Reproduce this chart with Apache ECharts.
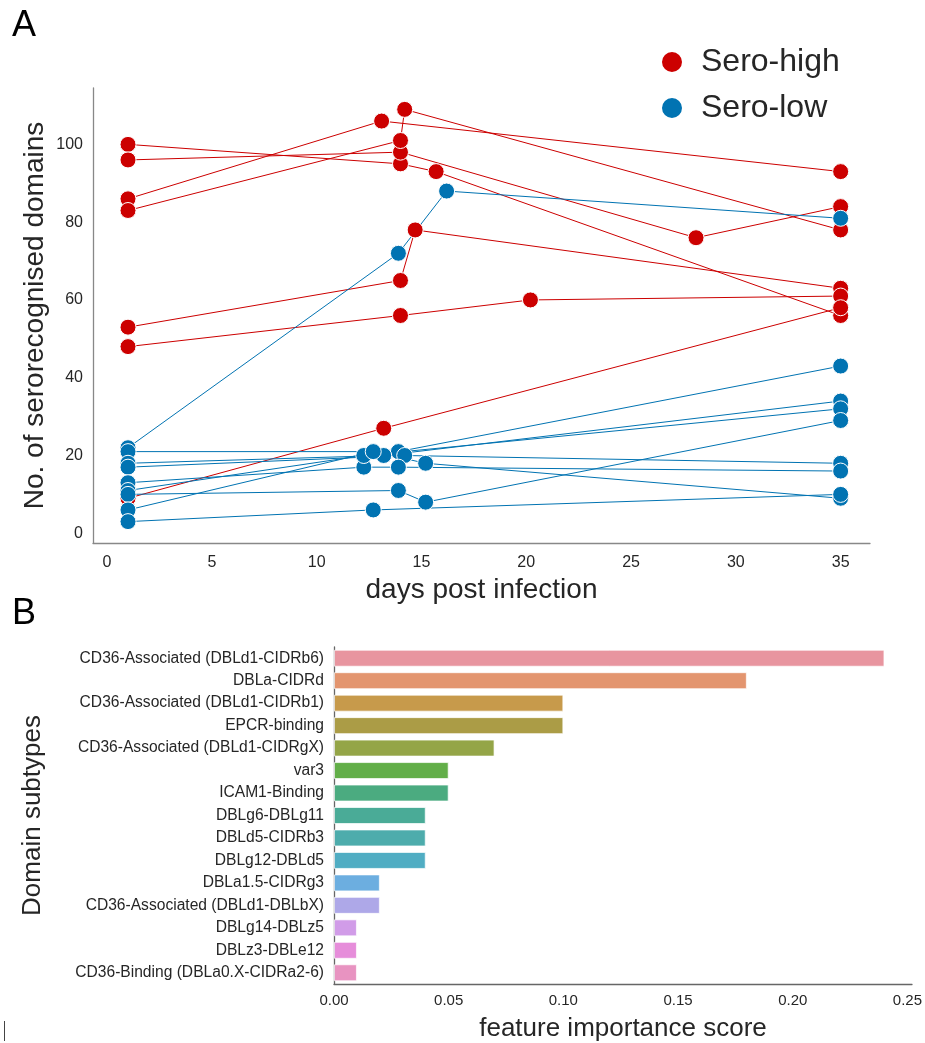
<!DOCTYPE html>
<html>
<head>
<meta charset="utf-8">
<script src="https://cdn.jsdelivr.net/npm/echarts@6/dist/echarts.min.js"></script>
<style>
html,body{margin:0;padding:0;background:#fff;}
#chart{width:925px;height:1043px;}
</style>
</head>
<body>
<div id="chart"></div>
<script>
// ---- Panel A data: one array per individual (days / values) ----
const highDays = [
  [1, 14, 15.7, 35],
  [1, 14, 28.1, 35],
  [1, 13.1, 35],
  [1, 14, 14.2, 35],
  [1, 14, 14.7, 35],
  [1, 14, 20.2, 35],
  [1, 13.2, 35]
];
const highValues = [
  [100, 95, 93, 56],
  [96, 98, 76, 84],
  [86, 106, 93],
  [83, 101, 109, 78],
  [53, 65, 78, 63],
  [48, 56, 60, 61],
  [9, 27, 58]
];
const lowDays = [
  [1, 13.9, 16.2, 35],
  [1, 13.9, 35],
  [1, 13.2, 35],
  [1, 14.2, 35],
  [1, 12.25, 13.9, 35],
  [1, 12.25, 35],
  [1, 13.9, 15.2, 35],
  [1, 12.7, 15.2, 35],
  [1, 12.7, 35]
];
const lowValues = [
  [22, 72, 88, 81],
  [21, 21, 43],
  [18, 20, 34],
  [17, 20, 18],
  [13, 17, 17, 16],
  [11, 20, 32],
  [10, 11, 8, 29],
  [6, 21, 18, 9],
  [3, 6, 10]
];
const xTicksA = [0, 5, 10, 15, 20, 25, 30, 35];
const yTicksA = [0, 20, 40, 60, 80, 100];

// ---- Panel B data ----
const domainCategories = [
  'CD36-Associated (DBLd1-CIDRb6)',
  'DBLa-CIDRd',
  'CD36-Associated (DBLd1-CIDRb1)',
  'EPCR-binding',
  'CD36-Associated (DBLd1-CIDRgX)',
  'var3',
  'ICAM1-Binding',
  'DBLg6-DBLg11',
  'DBLd5-CIDRb3',
  'DBLg12-DBLd5',
  'DBLa1.5-CIDRg3',
  'CD36-Associated (DBLd1-DBLbX)',
  'DBLg14-DBLz5',
  'DBLz3-DBLe12',
  'CD36-Binding (DBLa0.X-CIDRa2-6)'
];
const importanceScores = [0.24, 0.18, 0.10, 0.10, 0.07, 0.05, 0.05, 0.04, 0.04, 0.04, 0.02, 0.02, 0.01, 0.01, 0.01];
const barColors = ['#e8959f', '#e3956f', '#c79a4b', '#ab9c46', '#94a547', '#62ae48', '#4bab80', '#4aab97', '#4dacac', '#50adc3', '#6caee0', '#aea8e8', '#d19ce8', '#e68dda', '#e893c1'];
const xTicksB = [0, 0.05, 0.10, 0.15, 0.20, 0.25];

const RED = '#cc0000';
const BLUE = '#0173b2';
const TXT = '#262626';

function makeSeries(days, vals, name, color) {
  return days.map((d, i) => ({
    type: 'line',
    name: name,
    xAxisIndex: 0,
    yAxisIndex: 0,
    data: d.map((x, j) => [x, vals[i][j]]),
    symbol: 'circle',
    symbolSize: 16,
    showAllSymbol: true,
    lineStyle: { color: color, width: 1 },
    itemStyle: { color: color, borderColor: '#ffffff', borderWidth: 1 },
    emphasis: { disabled: true }
  }));
}

const series = []
  .concat(makeSeries(highDays, highValues, 'Sero-high', RED))
  .concat(makeSeries(lowDays, lowValues, 'Sero-low', BLUE));

series.push({
  type: 'bar',
  xAxisIndex: 1,
  yAxisIndex: 1,
  barWidth: 17,
  data: importanceScores.map((v, i) => ({
    value: v,
    itemStyle: { color: barColors[i], borderColor: 'rgba(255,255,255,0.7)', borderWidth: 1 }
  })),
  emphasis: { disabled: true }
});

const chart = echarts.init(document.getElementById('chart'), null, { renderer: 'canvas' });
chart.setOption({
  animation: false,
  backgroundColor: '#ffffff',
  textStyle: { fontFamily: 'Liberation Sans, Arial, sans-serif' },
  graphic: [
    { type: 'text', left: 12, top: 8, style: { text: 'A', fontSize: 36, fill: '#000', fontFamily: 'Liberation Sans' } },
    { type: 'text', left: 12, top: 596, style: { text: 'B', fontSize: 36, fill: '#000', fontFamily: 'Liberation Sans' } },
    { type: 'line', shape: { x1: 4.5, y1: 1021, x2: 4.5, y2: 1041 }, style: { stroke: '#444', lineWidth: 1 } }
  ],
  legend: {
    data: ['Sero-high', 'Sero-low'],
    orient: 'vertical',
    left: 655,
    top: 41,
    icon: 'circle',
    itemWidth: 48,
    itemHeight: 22,
    itemGap: 14,
    textStyle: { fontSize: 32, color: TXT, fontFamily: 'Liberation Sans' },
    selectedMode: false
  },
  grid: [
    { left: 93, right: 55, top: 88, height: 455 },
    { left: 334, right: 12, top: 647, height: 337 }
  ],
  xAxis: [
    {
      type: 'value', gridIndex: 0, min: -0.67, max: 36.4,
      axisLine: { onZero: false, lineStyle: { color: '#888', width: 1.3 } },
      axisTick: { show: false },
      splitLine: { show: false },
      axisLabel: { customValues: xTicksA, fontSize: 16, color: TXT, margin: 12, fontFamily: 'Liberation Sans' },
      name: 'days post infection', nameLocation: 'middle', nameGap: 33,
      nameTextStyle: { fontSize: 28, color: TXT, fontFamily: 'Liberation Sans' }
    },
    {
      type: 'value', gridIndex: 1, min: 0, max: 0.252,
      axisLine: { show: true, onZero: false, lineStyle: { color: '#666', width: 1.3 } },
      axisTick: { show: false },
      splitLine: { show: false },
      axisLabel: { customValues: xTicksB, fontSize: 15, color: TXT, margin: 9, fontFamily: 'Liberation Sans',
        formatter: v => v.toFixed(2) },
      name: 'feature importance score', nameLocation: 'middle', nameGap: 32,
      nameTextStyle: { fontSize: 26, color: TXT, fontFamily: 'Liberation Sans' }
    }
  ],
  yAxis: [
    {
      type: 'value', gridIndex: 0, min: -2.5, max: 114.5,
      axisLine: { show: true, onZero: false, lineStyle: { color: '#888', width: 1.3 } },
      axisTick: { show: false },
      splitLine: { show: false },
      axisLabel: { customValues: yTicksA, fontSize: 16, color: TXT, margin: 10, fontFamily: 'Liberation Sans' },
      name: 'No. of serorecognised domains', nameLocation: 'middle', nameGap: 44, nameMoveOverlap: false,
      nameTextStyle: { fontSize: 28, color: TXT, fontFamily: 'Liberation Sans' }
    },
    {
      type: 'category', gridIndex: 1, inverse: true, data: domainCategories,
      axisLine: { show: true, onZero: false, lineStyle: { color: '#666', width: 1.3 } },
      axisTick: { show: false },
      splitLine: { show: false },
      axisLabel: { fontSize: 15.6, color: TXT, margin: 10, interval: 0, fontFamily: 'Liberation Sans' },
      name: 'Domain subtypes', nameLocation: 'middle', nameGap: 288,
      nameTextStyle: { fontSize: 26, color: TXT, fontFamily: 'Liberation Sans' }
    }
  ],
  series: series
});
</script>
</body>
</html>
